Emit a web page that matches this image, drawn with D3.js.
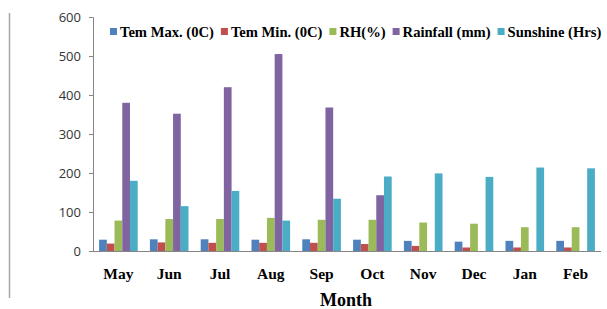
<!DOCTYPE html>
<html>
<head>
<meta charset="utf-8">
<script src="https://cdn.jsdelivr.net/npm/d3@7"></script>
<style>
  body { margin: 0; background: #fff; }
  svg { display: block; }
</style>
</head>
<body>
<div id="chart"></div>
<script>
const months = ["May", "Jun", "Jul", "Aug", "Sep", "Oct", "Nov", "Dec", "Jan", "Feb"];
const seriesNames = ["Tem Max. (0C)", "Tem Min. (0C)", "RH(%)", "Rainfall (mm)", "Sunshine (Hrs)"];
const temMax = [29, 30, 30, 29, 30, 29, 26, 24, 26, 26];
const temMin = [19, 22, 21, 21, 21, 18, 13, 9, 9, 9];
const rh = [78, 82, 82, 85, 80, 80, 73, 70, 61, 61];
const rainfall = [380, 352, 420, 505, 368, 143, 0, 0, 0, 0];
const sunshine = [180, 115, 154, 78, 134, 191, 199, 190, 214, 212];
const yTicks = [0, 100, 200, 300, 400, 500, 600];

const colors = ["#4F81BD", "#C0504D", "#9BBB59", "#8064A2", "#4BACC6"];
const allSeries = [temMax, temMin, rh, rainfall, sunshine];

const width = 607, height = 309;
const margin = { top: 17, right: 6, bottom: 58, left: 93 };

const svg = d3.select("#chart").append("svg")
    .attr("width", width)
    .attr("height", height);

// left frame line
svg.append("line")
    .attr("x1", 9.5).attr("x2", 9.5)
    .attr("y1", 13).attr("y2", 298)
    .attr("stroke", "#a6a6a6")
    .attr("stroke-width", 1.5);

const x = d3.scaleBand()
    .domain(months)
    .range([margin.left, width - margin.right])
    .paddingInner(0.24)
    .paddingOuter(0.12);

const xSub = d3.scaleBand()
    .domain(d3.range(seriesNames.length))
    .range([0, x.bandwidth()]);

const y = d3.scaleLinear()
    .domain([0, 600])
    .range([height - margin.bottom, margin.top]);

// y axis
const yAxis = svg.append("g")
    .attr("transform", "translate(" + margin.left + ",0)")
    .call(d3.axisLeft(y).tickValues(yTicks).tickSize(4).tickPadding(8));
yAxis.select(".domain").attr("stroke", "#868686");
yAxis.selectAll(".tick line").attr("stroke", "#868686");
yAxis.selectAll("text")
    .style("font-family", "'Open Sans', 'DejaVu Sans', sans-serif")
    .style("font-size", "13px")
    .attr("fill", "#333");

// bars
const groups = svg.append("g")
    .selectAll("g")
    .data(months)
    .enter().append("g")
    .attr("transform", d => "translate(" + x(d) + ",0)");

groups.selectAll("rect")
    .data((m, i) => allSeries.map((s, k) => ({ k: k, v: s[i] })))
    .enter().append("rect")
    .attr("x", d => xSub(d.k))
    .attr("width", xSub.bandwidth())
    .attr("y", d => y(d.v))
    .attr("height", d => y(0) - y(d.v))
    .attr("fill", d => colors[d.k]);

// x axis line
svg.append("line")
    .attr("x1", margin.left - 4).attr("x2", width - margin.right)
    .attr("y1", y(0) + 0.5).attr("y2", y(0) + 0.5)
    .attr("stroke", "#868686");

// month labels
svg.append("g")
    .selectAll("text")
    .data(months)
    .enter().append("text")
    .attr("x", d => x(d) + x.bandwidth() / 2)
    .attr("y", y(0) + 28)
    .attr("text-anchor", "middle")
    .style("font-family", "'Liberation Serif', 'Times New Roman', serif")
    .style("font-weight", "bold")
    .style("font-size", "15.5px")
    .text(d => d);

svg.append("text")
    .attr("x", 346)
    .attr("y", 306)
    .attr("text-anchor", "middle")
    .style("font-family", "'Liberation Serif', 'Times New Roman', serif")
    .style("font-weight", "bold")
    .style("font-size", "18px")
    .text("Month");

// legend, laid out left to right from measured text widths
const legend = svg.append("g").attr("transform", "translate(0,28)");
let lx = 110;
seriesNames.forEach((name, i) => {
    const item = legend.append("g").attr("transform", "translate(" + lx + ",0)");
    item.append("rect")
        .attr("width", 7).attr("height", 7)
        .attr("fill", colors[i]);
    const t = item.append("text")
        .attr("x", 10)
        .attr("y", 8.5)
        .style("font-family", "'Liberation Serif', 'Times New Roman', serif")
        .style("font-weight", "bold")
        .style("font-size", "14.6px")
        .text(name);
    lx += 10 + t.node().getComputedTextLength() + 7;
});
</script>
</body>
</html>
